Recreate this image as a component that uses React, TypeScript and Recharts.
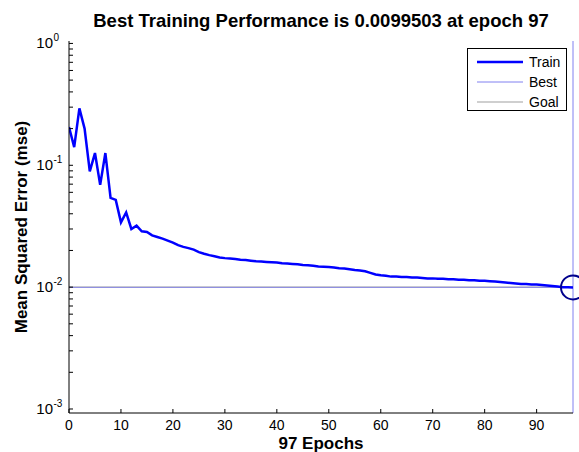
import React from "react";
import {
  LineChart,
  Line,
  XAxis,
  YAxis,
  ReferenceLine,
  ReferenceDot,
} from "recharts";

// training mse per epoch (epoch = index)
const trainMse = [
  0.206, 0.141, 0.293, 0.2, 0.089, 0.126, 0.069, 0.126, 0.054, 0.052,
  0.034, 0.041, 0.03, 0.032, 0.0287, 0.0284, 0.0266, 0.0258, 0.025, 0.0241,
  0.0232, 0.0221, 0.0214, 0.0209, 0.0203, 0.0194, 0.0188, 0.0183, 0.0179, 0.0175,
  0.0173, 0.0172, 0.017, 0.0168, 0.0167, 0.0165, 0.0163, 0.0162, 0.0161, 0.016,
  0.0159, 0.0157, 0.0156, 0.0155, 0.0154, 0.0152, 0.0151, 0.015, 0.0148, 0.0147,
  0.0146, 0.0145, 0.0143, 0.0142, 0.014, 0.0138, 0.0137, 0.0135, 0.0131, 0.0127,
  0.0125, 0.0124, 0.0122, 0.0122, 0.0121, 0.0121, 0.012, 0.012, 0.0119, 0.0118,
  0.0118, 0.0117, 0.0117, 0.0116, 0.0116, 0.0115, 0.0115, 0.0114, 0.0114, 0.0113,
  0.0113, 0.0112, 0.0111, 0.011, 0.0109, 0.0108, 0.0107, 0.0106, 0.0106, 0.0105,
  0.0105, 0.0104, 0.0103, 0.0102, 0.0101, 0.01, 0.00998, 0.0099503,
];

const bestEpoch = 97;
const bestPerf = 0.0099503;
const goal = 0.01;

const xTicks = [0, 10, 20, 30, 40, 50, 60, 70, 80, 90];
const yMajor = [0.001, 0.01, 0.1, 1];
const yMinor = [
  0.002, 0.003, 0.004, 0.005, 0.006, 0.007, 0.008, 0.009,
  0.02, 0.03, 0.04, 0.05, 0.06, 0.07, 0.08, 0.09,
  0.2, 0.3, 0.4, 0.5, 0.6, 0.7, 0.8, 0.9,
];

const legendItems = [
  { name: "Train", color: "#0000ff", width: 2.5 },
  { name: "Best", color: "#8080f0", width: 1 },
  { name: "Goal", color: "#a0a0a0", width: 1.2 },
];

const data = trainMse.map((mse, epoch) => ({ epoch, mse }));

const FONT = "'Liberation Sans', Arial, Helvetica, sans-serif";

const YTick = (props: any) => {
  const { x, y, payload } = props;
  const v = payload.value as number;
  const exp = Math.round(Math.log10(v));
  const isMajor = yMajor.includes(v);
  return (
    <g>
      <line x1={x} x2={x + 4} y1={y} y2={y} stroke="#000" strokeWidth={1} />
      {isMajor && (
        <text fontFamily={FONT} fill="#000">
          <tspan x={x - 16} y={y + 5} fontSize={15} textAnchor="end">
            10
          </tspan>
          <tspan x={x - 15.5} y={y - 2} fontSize={10} textAnchor="start">
            {exp}
          </tspan>
        </text>
      )}
    </g>
  );
};

const XTick = (props: any) => {
  const { x, y, payload } = props;
  return (
    <g>
      <line x1={x} x2={x} y1={y} y2={y - 4} stroke="#000" strokeWidth={1} />
      <text
        x={x}
        y={y + 17}
        textAnchor="middle"
        fontSize={14}
        fontFamily={FONT}
        fill="#000"
      >
        {payload.value}
      </text>
    </g>
  );
};

const PerfLegend = () => (
  <div
    style={{
      position: "absolute",
      top: 48,
      left: 467,
      width: 100,
      height: 63,
      border: "1px solid #000",
      background: "#fff",
      boxSizing: "border-box",
      padding: "3px 0 0 9px",
      fontFamily: FONT,
      fontSize: 14,
    }}
  >
    {legendItems.map((it) => (
      <div
        key={it.name}
        style={{ display: "flex", alignItems: "center", height: 20 }}
      >
        <svg width={46} height={6} style={{ marginRight: 6 }}>
          <line
            x1={0}
            x2={46}
            y1={3}
            y2={3}
            stroke={it.color}
            strokeWidth={it.width}
          />
        </svg>
        <span>{it.name}</span>
      </div>
    ))}
  </div>
);

export default function App() {
  return (
    <div style={{ position: "relative", width: 579, height: 452, background: "#fff" }}>
      <style>{`body{margin:0}`}</style>
      <LineChart
        width={579}
        height={452}
        data={data}
        margin={{ top: 41, right: 6, left: 0, bottom: 0 }}
      >
        <XAxis
          dataKey="epoch"
          type="number"
          domain={[0, 97]}
          ticks={xTicks}
          allowDataOverflow
          height={39}
          tickSize={0}
          tickMargin={0}
          tickLine={false}
          axisLine={{ stroke: "#000", strokeWidth: 1 }}
          tick={<XTick />}
        />
        <YAxis
          scale="log"
          type="number"
          domain={[0.000927, 1.047]}
          ticks={[...yMajor, ...yMinor]}
          allowDataOverflow
          width={69}
          tickSize={0}
          tickMargin={0}
          tickLine={false}
          axisLine={{ stroke: "#000", strokeWidth: 1 }}
          tick={<YTick />}
          interval={0}
        />
        <ReferenceLine y={goal} stroke="#a0a0a0" strokeWidth={1.4} />
        <ReferenceLine y={bestPerf} stroke="#8080f0" strokeWidth={1} strokeOpacity={0.8} />
        <ReferenceLine x={bestEpoch} stroke="#8080f0" strokeWidth={1} />
        <Line
          dataKey="mse"
          type="linear"
          stroke="#0000ff"
          strokeWidth={2.5}
          dot={false}
          isAnimationActive={false}
        />
        <ReferenceDot
          x={bestEpoch}
          y={bestPerf}
          r={12}
          fill="none"
          stroke="#00008c"
          strokeWidth={2}
          ifOverflow="visible"
        />
        <text
          x={321}
          y={27}
          textAnchor="middle"
          fontSize={18.5}
          fontWeight="bold"
          fontFamily={FONT}
        >
          Best Training Performance is 0.0099503 at epoch 97
        </text>
        <text
          x={321}
          y={449}
          textAnchor="middle"
          fontSize={17}
          fontWeight="bold"
          fontFamily={FONT}
        >
          97 Epochs
        </text>
        <text
          x={0}
          y={0}
          transform="translate(27,227) rotate(-90)"
          textAnchor="middle"
          fontSize={17}
          fontWeight="bold"
          fontFamily={FONT}
        >
          Mean Squared Error  (mse)
        </text>
      </LineChart>
      <PerfLegend />
    </div>
  );
}
